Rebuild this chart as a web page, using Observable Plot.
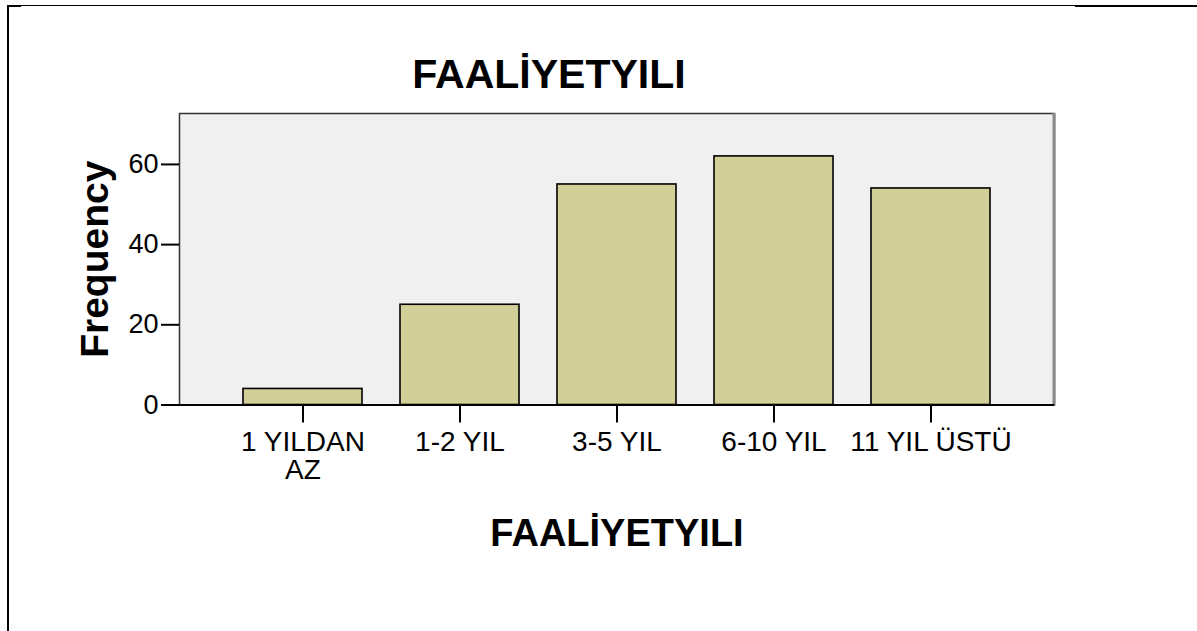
<!DOCTYPE html>
<html>
<head>
<meta charset="utf-8">
<script src="https://cdn.jsdelivr.net/npm/d3@7"></script>
<script src="https://cdn.jsdelivr.net/npm/@observablehq/plot@0.6"></script>
<style>
  html, body { margin: 0; padding: 0; background: #fff; }
  #wrap { position: relative; width: 1197px; height: 631px; overflow: hidden; font-family: "Liberation Sans", Arial, sans-serif; }
  #chart { position: absolute; left: 0; top: 0; }
  .ln { position: absolute; background: #000; }
</style>
</head>
<body>
<div id="wrap">
  <div id="chart"></div>
  <div class="ln" style="left:7px; top:5px; width:1190px; height:1px;"></div>
  <div class="ln" style="left:1075px; top:5px; width:122px; height:2px;"></div>
  <div class="ln" style="left:7px; top:5px; width:14px; height:2px;"></div>
  <div class="ln" style="left:7px; top:5px; width:2px; height:626px;"></div>
</div>
<script>
const categories = ["1 YILDAN AZ", "1-2 YIL", "3-5 YIL", "6-10 YIL", "11 YIL ÜSTÜ"];
const tickLabels = ["1 YILDAN\nAZ", "1-2 YIL", "3-5 YIL", "6-10 YIL", "11 YIL ÜSTÜ"];
const frequencies = [4, 25, 55, 62, 54];
const yTicks = [0, 20, 40, 60];
const titleText = "FAALİYETYILI";
const xLabel = "FAALİYETYILI";
const yLabel = "Frequency";

const data = categories.map((c, i) => ({cat: c, value: frequencies[i]}));
const labelOf = new Map(categories.map((c, i) => [c, tickLabels[i]]));

const rightEdge = (index, scales, values, dims) => {
  const ns = "http://www.w3.org/2000/svg";
  const l = document.createElementNS(ns, "line");
  const x = dims.width - dims.marginRight;
  l.setAttribute("x1", x); l.setAttribute("x2", x);
  l.setAttribute("y1", dims.marginTop); l.setAttribute("y2", dims.height - dims.marginBottom);
  l.setAttribute("stroke", "#8a8a8a"); l.setAttribute("stroke-width", 3);
  return l;
};

const chart = Plot.plot({
  width: 1197,
  height: 631,
  marginLeft: 179,
  marginRight: 143,
  marginTop: 113,
  marginBottom: 226.5,
  style: {fontFamily: "'Liberation Sans', Arial, sans-serif", background: "transparent", color: "#000"},
  x: {type: "band", domain: categories, paddingInner: 0.244, paddingOuter: 0.397, label: null},
  y: {domain: [0, 72.7], label: null},
  marks: [
    Plot.frame({fill: "#f0f0f0", stroke: "#333", strokeWidth: 1.5}),
    Plot.barY(data, {x: "cat", y: "value", fill: "#d3cf98", stroke: "#000", strokeWidth: 1.6}),
    rightEdge,
    Plot.ruleY([0], {stroke: "#000", strokeWidth: 2}),
    Plot.axisY({ticks: yTicks, tickSize: 18, tickPadding: 3, fontSize: 27, stroke: "#000", strokeWidth: 2, label: null}),
    Plot.axisX({tickSize: 18, tickPadding: 8, fontSize: 28, stroke: "#000", strokeWidth: 2, tickFormat: d => labelOf.get(d), label: null}),
    Plot.text([titleText], {frameAnchor: "top", text: d => d, dx: -68, dy: -26, lineAnchor: "bottom", fontSize: 41, fontWeight: "bold", fill: "#000"}),
    Plot.text([xLabel], {frameAnchor: "bottom", text: d => d, dy: 140.5, lineAnchor: "bottom", fontSize: 38, fontWeight: "bold", fill: "#000"}),
    Plot.text([yLabel], {frameAnchor: "left", text: d => d, dx: -72, rotate: -90, textAnchor: "middle", lineAnchor: "bottom", fontSize: 39, fontWeight: "bold", fill: "#000"})
  ]
});
document.getElementById("chart").appendChild(chart);
</script>
</body>
</html>
